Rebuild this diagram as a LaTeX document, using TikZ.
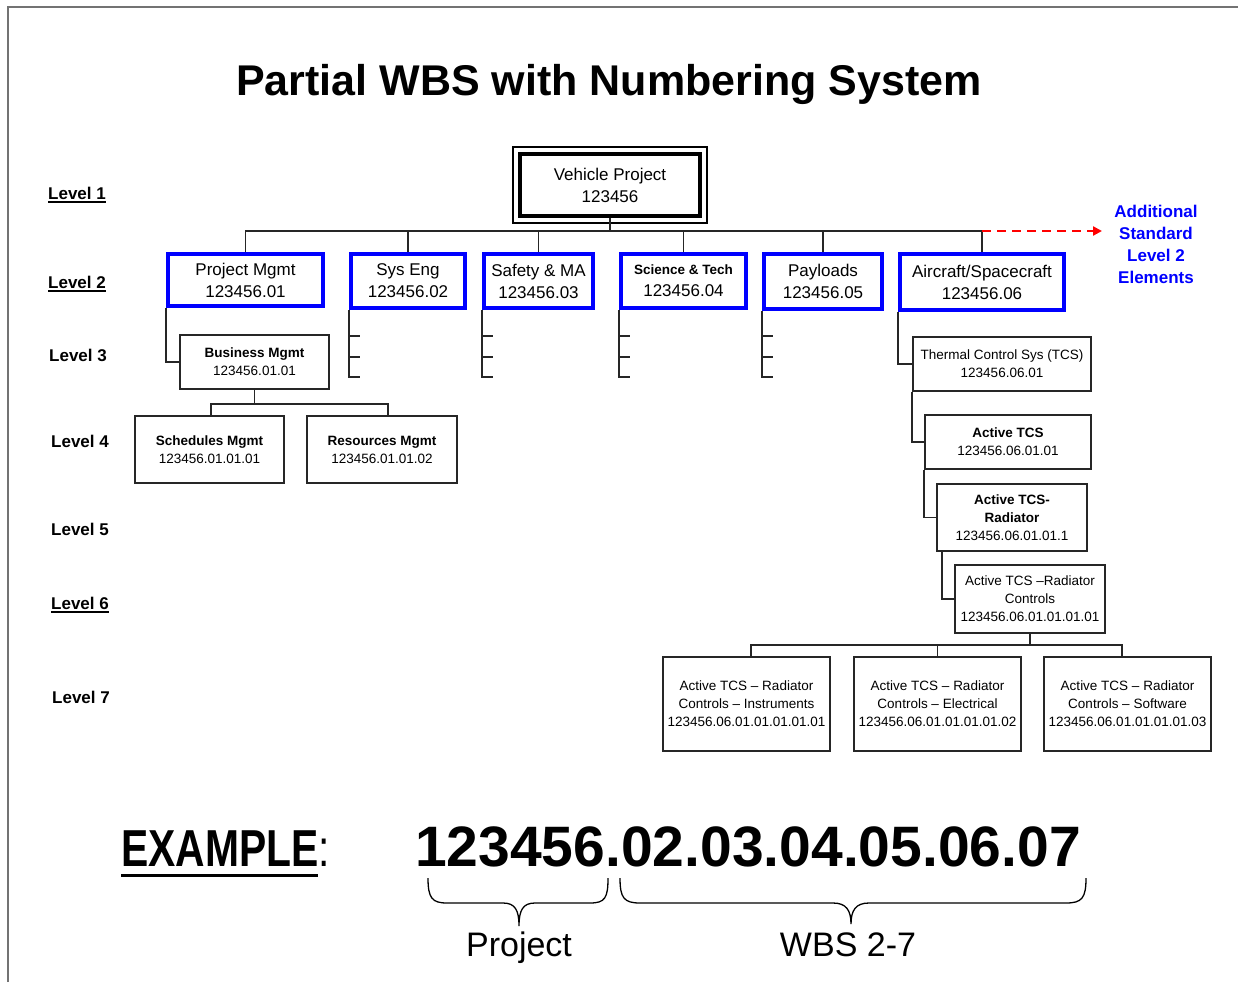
\documentclass[tikz,border=0pt]{standalone}
\usepackage{fontspec}
\usepackage{graphicx}
\setmainfont{Liberation Sans}
\usetikzlibrary{arrows.meta,calc}
\begin{document}
\begin{tikzpicture}[x=1pt,y=-1pt,
  lvltwo/.style={draw=blue, line width=3.5pt, align=center, inner sep=0pt, font=\fontsize{17}{22}\selectfont},
  sbox/.style={draw=black!85, line width=1.6pt, align=center, inner sep=0pt, font=\fontsize{13.5}{18}\selectfont},
  conn/.style={draw=black!85, line width=1.6pt},
  lvllab/.style={anchor=base west, inner sep=0pt, font=\fontsize{17}{20}\selectfont\bfseries},
  uline/.style={line width=1.8pt}
]
\useasboundingbox (0,0) rectangle (1238,982);
\fill[white] (0,0) rectangle (1238,982);
% page border
\draw[black!55, line width=2pt] (8,982) -- (8,7) -- (1238,7);

% title
\node[anchor=base, inner sep=0pt, font=\fontsize{43}{50}\selectfont\bfseries] (title) at (609,95) {Partial WBS with Numbering System};

% level labels
\node[lvllab] (l1) at (48,199) {Level 1};
\node[lvllab] (l2) at (48,288) {Level 2};
\node[lvllab] (l3) at (49,361) {Level 3};
\node[lvllab] (l4) at (51,447) {Level 4};
\node[lvllab] (l5) at (51,535) {Level 5};
\node[lvllab] (l6) at (51,609) {Level 6};
\node[lvllab] (l7) at (52,703) {Level 7};
\foreach \l in {l1,l2,l6} {
  \draw[uline] ([yshift=-3pt]\l.base west) -- ([yshift=-3pt]\l.base east);
}

% level 1
\node[draw=black, line width=4pt, minimum width=180, minimum height=62, align=center, inner sep=0pt,
      font=\fontsize{17}{22}\selectfont] (veh) at (610,185) {Vehicle Project\\123456};
\draw[line width=1.2pt] ($(veh.north west)+(-5,-5)$) rectangle ($(veh.south east)+(5,5)$);

% level 2
\node[lvltwo, minimum width=155, minimum height=52] (pm) at (245.5,280) {Project Mgmt\\123456.01};
\node[lvltwo, minimum width=114, minimum height=54] (se) at (408,281) {Sys Eng\\123456.02};
\node[lvltwo, minimum width=109, minimum height=54] (sa) at (538.5,281) {Safety \& MA\\123456.03};
\node[lvltwo, minimum width=125, minimum height=54] (st) at (683.5,281) {{\fontsize{13.5}{18}\selectfont\bfseries Science \& Tech}\\123456.04};
\node[lvltwo, minimum width=118, minimum height=55] (pl) at (823,281.5) {Payloads\\123456.05};
\node[lvltwo, minimum width=164, minimum height=56] (ac) at (982,282) {Aircraft/Spacecraft\\123456.06};

% bus level 1 -> 2
\coordinate (bus) at (610,231);
\draw[conn] (veh.south) -- (bus);
\draw[conn] (pm.north) |- (bus) -| (ac.north);
\foreach \n in {se,sa,st,pl} { \draw[conn] (\n.north) -- (\n.north |- bus); }

% red dashed arrow
\coordinate (redend) at (1102,231);
\draw[red, line width=2.5pt, dash pattern=on 9pt off 6pt, -{Triangle[length=9pt,width=9pt]}] (ac.north |- bus) -- (redend);
\node[align=center, text=blue, inner sep=0pt, font=\fontsize{17}{22}\selectfont\bfseries] (add) at (1156,244) {Additional\\Standard\\Level 2\\Elements};

% stub brackets
\foreach \n in {se,sa,st,pl} {
  \draw[conn] (\n.south west) -- (\n.south west |- 0,377) -- ++(11,0);
  \draw[conn] (\n.south west |- 0,336) -- ++(11,0);
  \draw[conn] (\n.south west |- 0,357) -- ++(11,0);
}

% left branch
\node[sbox, minimum width=149, minimum height=54] (bm) at (254.5,362) {{\bfseries Business Mgmt}\\123456.01.01};
\draw[conn] (pm.south west) |- (bm.west);
\node[sbox, minimum width=149, minimum height=67] (sm) at (209.5,449.5) {{\bfseries Schedules Mgmt}\\123456.01.01.01};
\node[sbox, minimum width=150, minimum height=67] (rm) at (382,449.5) {{\bfseries Resources Mgmt}\\123456.01.01.02};
\coordinate (b4) at (254.5,404);
\draw[conn] (bm.south) -- (b4);
\draw[conn] ([xshift=1.5pt]sm.north) |- (b4) -| ([xshift=6pt]rm.north);

% right branch
\node[sbox, minimum width=178, minimum height=54] (tcs) at (1002,364) {Thermal Control Sys (TCS)\\123456.06.01};
\draw[conn] (ac.south west) |- (tcs.west);
\node[sbox, minimum width=166, minimum height=54] (at) at (1008,442) {{\bfseries Active TCS}\\123456.06.01.01};
\draw[conn] (tcs.south west) |- (at.west);
\node[sbox, minimum width=150, minimum height=67] (rad) at (1012,517.5) {{\bfseries Active TCS-}\\{\bfseries Radiator}\\123456.06.01.01.1};
\draw[conn] (at.south west) |- (rad.west);
\node[sbox, minimum width=150, minimum height=68] (ctl) at (1030,599) {Active TCS --Radiator\\Controls\\123456.06.01.01.01.01};
\draw[conn] ([xshift=6pt]rad.south west) |- (ctl.west);

% level 7
\node[sbox, minimum width=167, minimum height=94] (b1) at (746.5,704) {Active TCS -- Radiator\\Controls -- Instruments\\123456.06.01.01.01.01.01};
\node[sbox, minimum width=167, minimum height=94] (b2) at (937.5,704) {Active TCS -- Radiator\\Controls -- Electrical\\123456.06.01.01.01.01.02};
\node[sbox, minimum width=167, minimum height=94] (b3) at (1127.5,704) {Active TCS -- Radiator\\Controls -- Software\\123456.06.01.01.01.01.03};
\coordinate (b7) at (1030,645);
\draw[conn] (ctl.south) -- (b7);
\draw[conn] ([xshift=4.5pt]b1.north) |- (b7) -| ([xshift=-5.5pt]b3.north);
\draw[conn] (b2.north) -- (b2.north |- b7);

% example
\node[anchor=base west, inner sep=0pt, font=\fontsize{52}{60}\selectfont\bfseries] (ex) at (121,866) {\scalebox{0.785}[1]{EXAMPLE}\scalebox{0.785}[1]{\mdseries:}};
\draw[line width=3pt] ([yshift=-9pt]ex.base west) -- ++(197,0);
\node[anchor=base, inner sep=0pt, font=\fontsize{57}{64}\selectfont\bfseries] (num) at (748,866) {123456.02.03.04.05.06.07};

% braces
\draw[line width=1.3pt] (428,878) .. controls (428,898) and (432,903) .. (447,903) -- (503,903)
  .. controls (515,903) and (519,910) .. (519,926)
  .. controls (519,910) and (523,903) .. (535,903) -- (590,903)
  .. controls (605,903) and (608,898) .. (608,878);
\draw[line width=1.3pt] (620,878) .. controls (620,898) and (624,903) .. (640,903) -- (833,903)
  .. controls (846,903) and (851,910) .. (851,924)
  .. controls (851,910) and (856,903) .. (869,903) -- (1066,903)
  .. controls (1082,903) and (1086,898) .. (1086,878);
\node[anchor=base, inner sep=0pt, font=\fontsize{34}{40}\selectfont] (proj) at (519,956) {Project};
\node[anchor=base, inner sep=0pt, font=\fontsize{34}{40}\selectfont] (wbs) at (848,956) {WBS 2-7};
\end{tikzpicture}
\end{document}
